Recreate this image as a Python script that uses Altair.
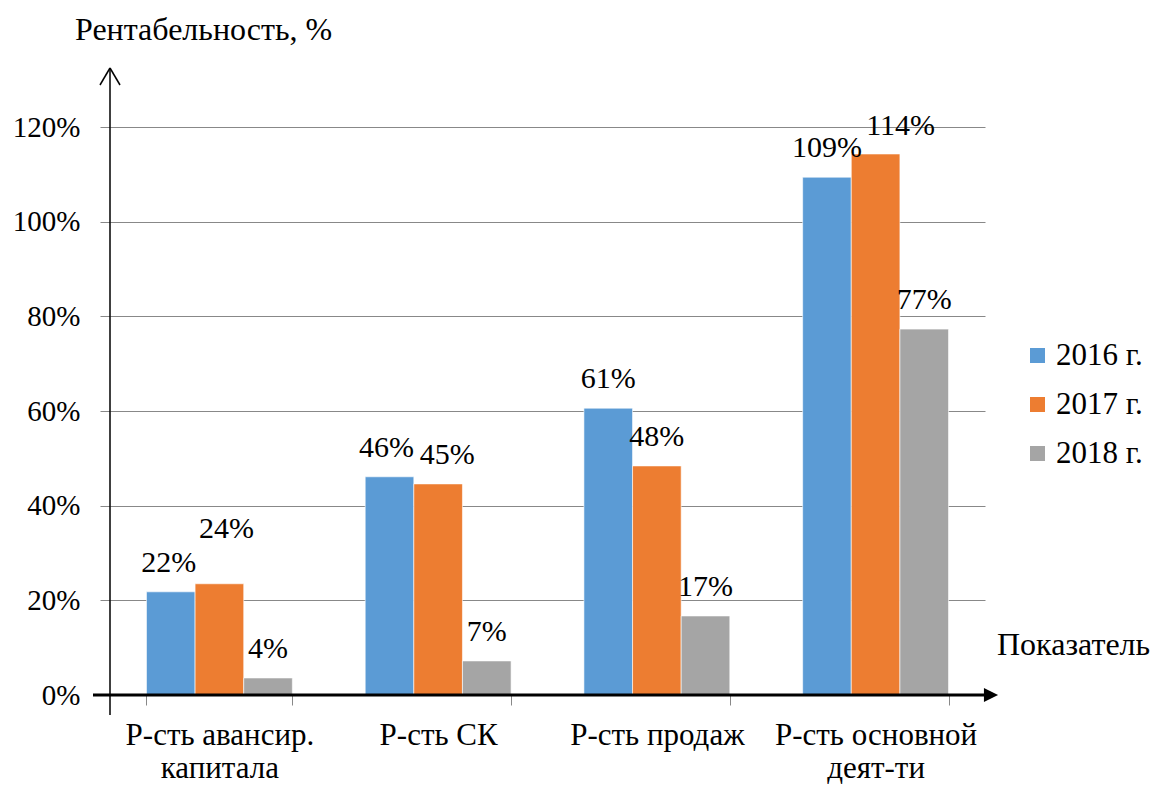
import altair as alt
import pandas as pd

categories = ["Р-сть авансир.|капитала", "Р-сть СК", "Р-сть продаж", "Р-сть основной|деят-ти"]
years = ["2016 г.", "2017 г.", "2018 г."]
values_2016 = [21.8, 46.1, 60.6, 109.4]
values_2017 = [23.5, 44.6, 48.4, 114.3]
values_2018 = [3.6, 7.2, 16.7, 77.3]
colors = ["#5B9BD5", "#ED7D31", "#A5A5A5"]
y_ticks = [0, 20, 40, 60, 80, 100, 120]

# label nudges (dx, dy) in pixels for overlapping labels
nudges = {
    ("Р-сть авансир.|капитала", "2016 г."): (-2, -29),
    ("Р-сть авансир.|капитала", "2017 г."): (7, -55),
    ("Р-сть СК", "2016 г."): (-3, -29),
    ("Р-сть СК", "2017 г."): (9, -29),
    ("Р-сть основной|деят-ти", "2017 г."): (25, -28),
}

rows = []
for yr, vals in zip(years, [values_2016, values_2017, values_2018]):
    for c, v in zip(categories, vals):
        dx, dy = nudges.get((c, yr), (0, -29))
        rows.append({"cat": c, "year": yr, "value": v,
                     "label": f"{int(v + 0.5)}%", "nudge": f"{dx},{dy}"})
df = pd.DataFrame(rows)

FONT = "Liberation Serif"
W, H = 875, 568

x_enc = alt.X("cat:N", sort=categories, title=None,
              scale=alt.Scale(paddingInner=0.333, paddingOuter=0.1667),
              axis=alt.Axis(labelExpr="isValid(datum.value) ? split(datum.value, '|') : ''",
                            labelAngle=0, labelLimit=400,
                            labelFontSize=31, labelFont=FONT, labelColor="black",
                            labelLineHeight=33, labelBaseline="top", labelPadding=15,
                            domain=False, ticks=True, tickBand="extent", tickSize=10,
                            tickColor="#888888", tickWidth=1, grid=False))
y_enc = alt.Y("value:Q", title=None,
              scale=alt.Scale(domain=[0, 120], nice=False, zero=True),
              axis=alt.Axis(values=y_ticks, labelExpr="datum.value + '%'",
                            labelFontSize=29, labelFont=FONT, labelColor="black",
                            labelPadding=20, tickSize=10, tickColor="#888888",
                            grid=True, gridColor="#888888", gridWidth=1,
                            domain=False))
xo = alt.XOffset("year:N", sort=years, scale=alt.Scale(paddingInner=0, paddingOuter=0))

bars = alt.Chart(df).mark_bar(stroke="white", strokeWidth=0.6).encode(
    x=x_enc, y=y_enc, xOffset=xo,
    color=alt.Color("year:N", sort=years,
                    scale=alt.Scale(domain=years, range=colors),
                    legend=alt.Legend(title=None, orient="none", legendX=912, legendY=213,
                                      symbolType="square", symbolSize=225,
                                      symbolStrokeWidth=0, labelFont=FONT,
                                      labelFontSize=31, labelColor="black",
                                      rowPadding=17, labelOffset=3, padding=0)),
)

text_layers = []
for nd in df["nudge"].unique():
    dx, dy = (int(s) for s in nd.split(","))
    text_layers.append(
        alt.Chart(df).transform_filter(alt.datum.nudge == nd).mark_text(
            font=FONT, fontSize=30, color="black", baseline="middle", dx=dx, dy=dy
        ).encode(x=alt.X("cat:N", sort=categories), xOffset=xo,
                 y=alt.Y("value:Q"), text="label:N")
    )

one = pd.DataFrame({"k": [0]})
base = alt.Chart(one)
y_axis_line = base.mark_rule(color="black", strokeWidth=1.5).encode(
    x=alt.value(0), y=alt.value(-59), y2=alt.value(588))
arm_l = base.mark_rule(color="black", strokeWidth=1.5).encode(
    x=alt.value(0), y=alt.value(-59), x2=alt.value(-10), y2=alt.value(-42))
arm_r = base.mark_rule(color="black", strokeWidth=1.5).encode(
    x=alt.value(0), y=alt.value(-59), x2=alt.value(10), y2=alt.value(-42))
x_axis_line = base.mark_rule(color="black", strokeWidth=3).encode(
    x=alt.value(-17), x2=alt.value(876), y=alt.value(H))
x_arrow = base.mark_point(shape="M-1,-1L1,0L-1,1Z", filled=True, color="black",
                          size=200, opacity=1).encode(x=alt.value(881), y=alt.value(H))
y_title = base.mark_text(font=FONT, fontSize=32, color="black", align="left",
                         baseline="alphabetic").encode(
    x=alt.value(-35), y=alt.value(-87), text=alt.value("Рентабельность, %"))
x_title = base.mark_text(font=FONT, fontSize=32, color="black", align="left",
                         baseline="alphabetic").encode(
    x=alt.value(887), y=alt.value(528), text=alt.value("Показатель"))

chart = alt.layer(bars, *text_layers, y_axis_line, arm_l, arm_r, x_axis_line,
                  x_arrow, y_title, x_title).properties(
    width=W, height=H,
    background="white",
    autosize=alt.AutoSizeParams(type="none"),
    padding={"left": 110, "top": 127, "right": 168, "bottom": 90},
).configure_view(stroke="transparent", strokeWidth=0)

chart.save("out.html", embed_options={"renderer": "svg", "actions": False})
